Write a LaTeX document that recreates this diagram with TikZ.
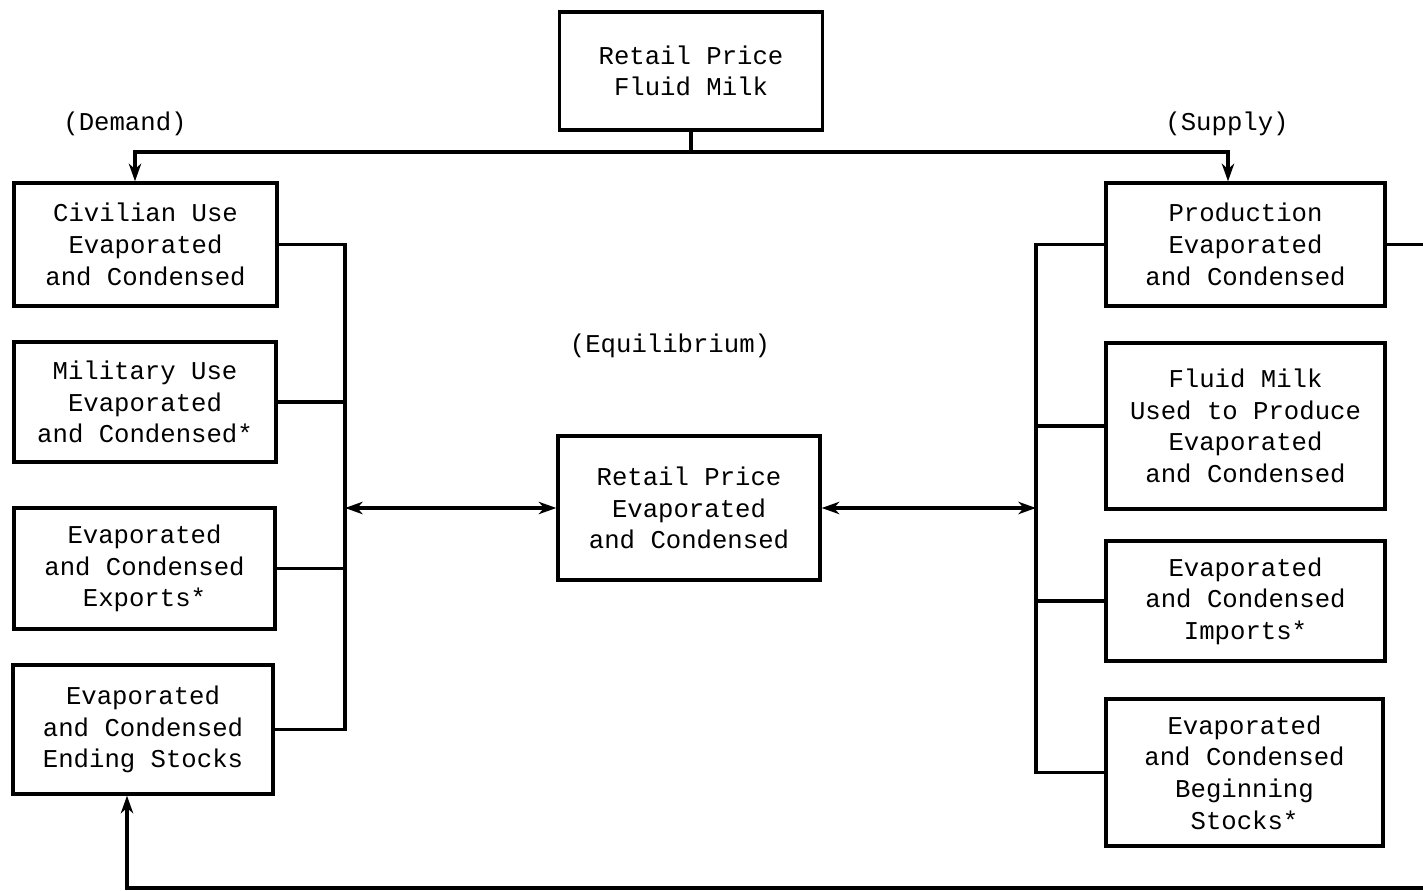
\documentclass[tikz,border=0pt]{standalone}
\usepackage{fontspec}
\setmonofont{Liberation Mono}
\usetikzlibrary{arrows.meta,positioning,calc}

\begin{document}
\begin{tikzpicture}[>={Stealth[length=10pt,width=7pt,inset=3pt]}, line width=1.9pt]
    \tikzset{
        box/.style={draw, rectangle, align=center, inner sep=2pt, font=\ttfamily\fontsize{14.6}{18}\selectfont},
        tag/.style={font=\ttfamily\fontsize{14.6}{18}\selectfont},
        link/.style={draw, ->, line width=1.9pt},
        both/.style={draw, <->, line width=1.9pt}
    }
    \useasboundingbox (0,0) rectangle (28.46,-17.82);

    % price of fluid milk
    \node [box, minimum width=5.26cm, minimum height=2.36cm] (fluid) at (13.82,-1.42) {Retail Price\\Fluid Milk};
    \node [tag] (demand) at (2.5,-2.48) {(Demand)};
    \node [tag] (supply) at (24.54,-2.48) {(Supply)};
    \node [tag] (equil) at (13.4,-6.92) {(Equilibrium)};

    % demand side
    \node [box, minimum width=5.26cm, minimum height=2.46cm] (civil) at (2.91,-4.89) {Civilian Use\\Evaporated\\and Condensed};
    \node [box, minimum width=5.24cm, minimum height=2.4cm] (military) at (2.90,-8.04) {Military Use\\Evaporated\\and Condensed*};
    \node [box, minimum width=5.22cm, minimum height=2.42cm] (exports) at (2.89,-11.37) {Evaporated\\and Condensed\\Exports*};
    \node [box, minimum width=5.2cm, minimum height=2.58cm] (ending) at (2.86,-14.59) {Evaporated\\and Condensed\\Ending Stocks};

    % equilibrium price
    \node [box, minimum width=5.24cm, minimum height=2.88cm] (evap) at (13.78,-10.16) {Retail Price\\Evaporated\\and Condensed};

    % supply side
    \node [box, minimum width=5.58cm, minimum height=2.46cm] (prod) at (24.91,-4.89) {Production\\Evaporated\\and Condensed};
    \node [box, minimum width=5.58cm, minimum height=3.32cm] (used) at (24.91,-8.52) {Fluid Milk\\Used to Produce\\Evaporated\\and Condensed};
    \node [box, minimum width=5.58cm, minimum height=2.4cm] (imports) at (24.91,-12.02) {Evaporated\\and Condensed\\Imports*};
    \node [box, minimum width=5.54cm, minimum height=2.94cm] (begin) at (24.89,-15.45) {Evaporated\\and Condensed\\Beginning\\Stocks*};

    \coordinate (split) at (13.82,-3.04);
    \coordinate (lbus) at (6.9,-4.89);
    \coordinate (rbus) at (20.72,-4.89);
    \coordinate (rout) at (28.46,-4.89);
    \coordinate (back) at (28.46,-17.76);
    \coordinate (turn) at (2.54,-17.76);

    \draw (fluid.south) -- (split);
    \path [link] (split) -| ([xshift=-0.21cm]civil.north);
    \path [link] (split) -| ([xshift=-0.35cm]prod.north);

    % demand bus
    \draw (civil.east) -- (lbus) -- (lbus |- ending.east) -- (ending.east);
    \draw (military.east) -- (military.east -| lbus);
    \draw (exports.east) -- (exports.east -| lbus);
    \path [both] (evap.west -| lbus) -- (evap.west);

    % supply bus
    \draw (prod.west) -- (rbus) -- (rbus |- begin.west) -- (begin.west);
    \draw (used.west) -- (used.west -| rbus);
    \draw (imports.west) -- (imports.west -| rbus);
    \path [both] (evap.east) -- (evap.east -| rbus);

    \draw (prod.east) -- (rout);

    % feedback of stocks
    \draw [link] (back) -- (turn) -- (turn |- ending.south);
\end{tikzpicture}
\end{document}
